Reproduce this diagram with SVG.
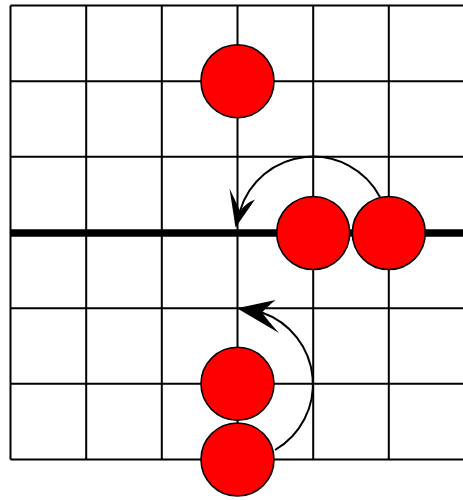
<svg xmlns="http://www.w3.org/2000/svg" width="463" height="500" viewBox="0 0 463 500">
<style>
.grid{stroke:#000;stroke-width:2;fill:none}
.axis{stroke:#000;stroke-width:7.5;fill:none}
.stone{fill:#ff0000;stroke:#000;stroke-width:1.6}
.arc{stroke:#000;stroke-width:2;fill:none}
.head{fill:#000;stroke:none}
</style>
<rect width="463" height="500" fill="#fff"/>
<g id="grid">
<path class="grid" d="M10.5 5.5V459.5M86.2 5.5V459.5M161.8 5.5V459.5M237.5 5.5V459.5M313.2 5.5V459.5M388.8 5.5V459.5"/>
<path class="grid" d="M10.5 5.5H463M10.5 81.2H463M10.5 156.8H463M10.5 308.2H463M10.5 383.8H463M10.5 459.5H463"/>
<path class="axis" d="M10.5 233H463"/>
</g>
<g id="connectors">
<path class="arc" d="M380 197 A76 76 0 0 0 240 211"/>
<path class="head" d="M235.5 227.5 L229.5 188.5 Q236 202 240 211 Q246 203 255 199.5 Z"/>
<path class="arc" d="M275 450 A76 76 0 0 0 262 312.5"/>
<path class="head" d="M237 308.3 L275.5 300 Q267 307 262 312.5 Q269 322 279 333 Z"/>
</g>
<g id="stone1"><circle class="stone" cx="237.5" cy="81.2" r="36.5"/></g>
<g id="stone2"><circle class="stone" cx="313.2" cy="233" r="36.5"/></g>
<g id="stone3"><circle class="stone" cx="388.8" cy="233" r="36.5"/></g>
<g id="stone4"><circle class="stone" cx="237.5" cy="383.8" r="36.5"/></g>
<g id="stone5"><circle class="stone" cx="237.5" cy="459.5" r="36.5"/></g>
</svg>
